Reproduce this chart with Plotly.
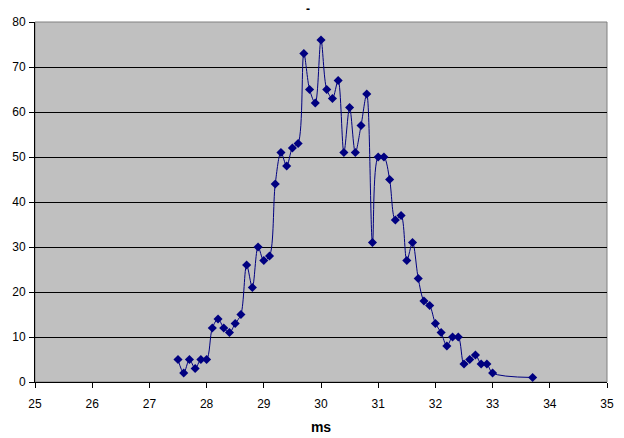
import plotly.graph_objects as go

# time (ms) and counts
ms = [27.5, 27.6, 27.7, 27.8, 27.9, 28.0, 28.1, 28.2, 28.3, 28.4,
      28.5, 28.6, 28.7, 28.8, 28.9, 29.0, 29.1, 29.2, 29.3, 29.4,
      29.5, 29.6, 29.7, 29.8, 29.9, 30.0, 30.1, 30.2, 30.3, 30.4,
      30.5, 30.6, 30.7, 30.8, 30.9, 31.0, 31.1, 31.2, 31.3, 31.4,
      31.5, 31.6, 31.7, 31.8, 31.9, 32.0, 32.1, 32.2, 32.3, 32.4,
      32.5, 32.6, 32.7, 32.8, 32.9, 33.0, 33.7]
counts = [5, 2, 5, 3, 5, 5, 12, 14, 12, 11,
          13, 15, 26, 21, 30, 27, 28, 44, 51, 48,
          52, 53, 73, 65, 62, 76, 65, 63, 67, 51,
          61, 51, 57, 64, 31, 50, 50, 45, 36, 37,
          27, 31, 23, 18, 17, 13, 11, 8, 10, 10,
          4, 5, 6, 4, 4, 2, 1]

x_ticks = list(range(25, 36))
y_ticks = list(range(0, 81, 10))

fig = go.Figure()
fig.add_trace(go.Scatter(
    x=ms, y=counts, mode="lines+markers",
    line=dict(color="#000080", width=1, shape="spline", smoothing=0.9),
    marker=dict(symbol="diamond", size=7, color="#000080"),
    showlegend=False,
    cliponaxis=False,
))

fig.update_layout(
    width=624, height=438,
    margin=dict(l=35, r=17, t=22, b=56),
    paper_bgcolor="white",
    plot_bgcolor="#c0c0c0",
    font=dict(family="Liberation Sans, Arial", size=12, color="black"),
    annotations=[dict(text="<b>-</b>", x=0.478, y=1.062, xref="paper", yref="paper",
                      showarrow=False, font=dict(size=12))],
)
fig.update_xaxes(
    range=[25, 35], tickvals=x_ticks, showgrid=False, automargin=False,
    showline=True, linecolor="black", linewidth=1,
    ticks="outside", ticklen=5, tickcolor="black", ticklabelstandoff=6,
    title=dict(text="<b>ms</b>", standoff=11), zeroline=False,
)
fig.update_yaxes(
    range=[0, 80], tickvals=y_ticks, showgrid=True, gridcolor="black", gridwidth=1,
    showline=True, linecolor="black", linewidth=1, automargin=False,
    ticks="outside", ticklen=5, tickcolor="black", ticklabelstandoff=1, zeroline=False,
)
# gray frame on top and right of the plot area
fig.add_shape(type="rect", xref="paper", yref="paper", x0=0, y0=0, x1=1, y1=1,
              line=dict(color="#808080", width=1), layer="below")

# the page body has an 8px default margin; drop it so the chart sits at 0,0
fig.write_html("out.html", config={"displayModeBar": False},
               post_script="document.body.style.margin='0';")
